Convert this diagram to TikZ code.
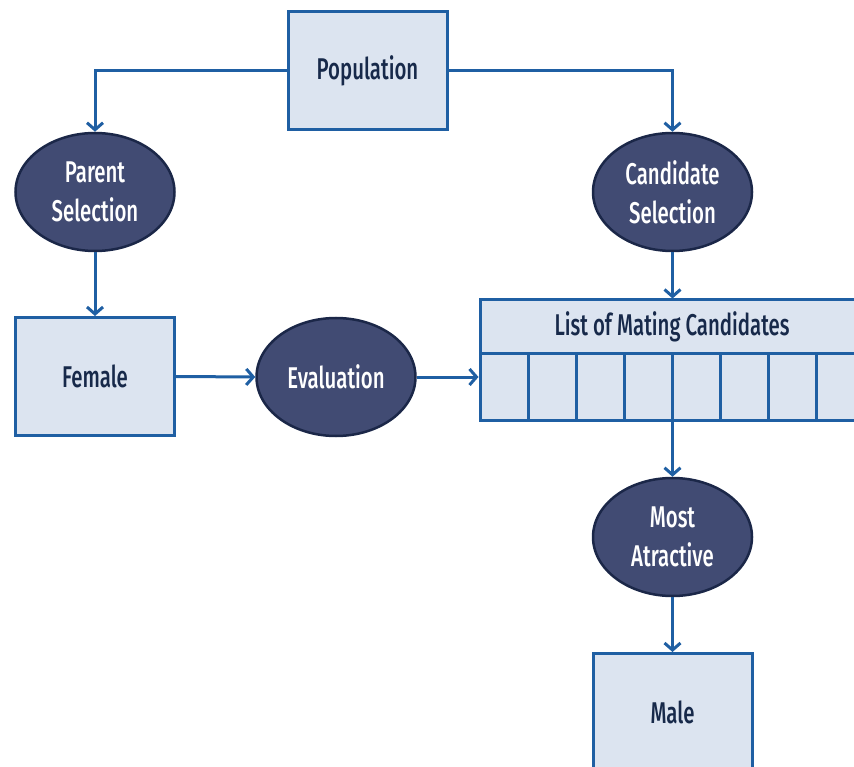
\documentclass[tikz,border=0pt]{standalone}
\usepackage{fontspec}
\setmainfont[FakeStretch=0.68]{Fira Sans Medium}
\usetikzlibrary{shapes.geometric,arrows.meta}
\definecolor{boxfill}{HTML}{DCE4F0}
\definecolor{linkblue}{HTML}{1F5FA3}
\definecolor{ovalfill}{HTML}{414B73}
\definecolor{ovaledge}{HTML}{1B2748}
\definecolor{inktext}{HTML}{17294A}
\begin{document}
\begin{tikzpicture}[x=1pt,y=-1pt,
  label font/.style={font=\fontsize{30}{39}\selectfont},
  box/.style={draw=linkblue, line width=3pt, fill=boxfill, minimum width=159pt,
    minimum height=118pt, text=inktext, inner sep=0pt, label font},
  cell/.style={draw=linkblue, line width=3pt, fill=boxfill, minimum width=48pt,
    minimum height=67pt, inner sep=0pt},
  oval/.style={ellipse, draw=ovaledge, line width=2.5pt, fill=ovalfill,
    minimum width=159pt, minimum height=118pt, text=white, align=center,
    inner sep=0pt, label font},
  link/.style={draw=linkblue, line width=3pt,
    -{Straight Barb[length=7pt,width=16pt,line width=3pt]}}
]
\clip (0,0) rectangle (854,767);

% boxes
\node[box] (pop) at (367.5,71) {Population};
\node[box] (female) at (95,376.5) {Female};
\node[box] (male) at (672.5,712.5) {Male};

% ellipses
\node[oval] (parent) at (95,192) {Parent\\Selection};
\node[oval] (cand) at (672.5,192) {Candidate\\Selection};
\node[oval] (eval) at (336,377) {Evaluation};
\node[oval] (most) at (672.5,537) {Most\\Atractive};

% list of candidates: header and eight cells
\node[draw=linkblue, line width=3pt, fill=boxfill, minimum width=384pt,
  minimum height=53pt, inner sep=0pt, text=inktext, label font]
  (listhead) at (672,326.5) {List of Mating Candidates};
\foreach \i in {1,...,8}
  \node[cell] (cell\i) at ({480+24+48*(\i-1)},386.5) {};

% connectors
\draw[link] (pop.west) -| (parent.north);
\draw[link] (pop.east) -| (cand.north);
\draw[link] (parent.south) -- (female.north);
\draw[link] (cand.south) -- (cand.south |- listhead.north);
\draw[link] (female.east) -- (eval.west);
\draw[link] (eval.east) -- (eval.east -| cell1.west);
\draw[link] (most.north |- cell4.south) -- (most.north);
\draw[link] (most.south) -- (male.north);
\end{tikzpicture}
\end{document}
